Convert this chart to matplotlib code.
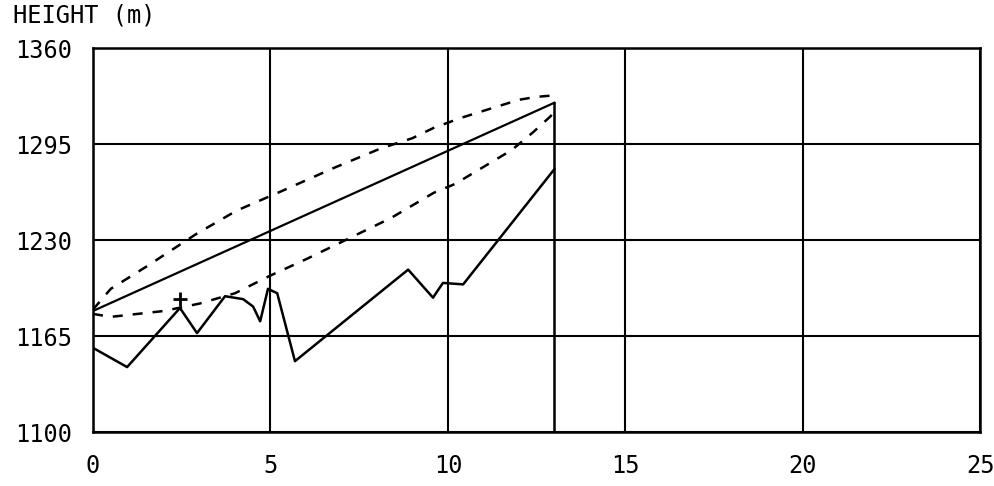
import matplotlib as mpl
mpl.use('Agg')
import matplotlib.pyplot as plt

# distance along route vs height (m)
route_x = [0, 0.96, 2.45, 2.93, 3.72, 4.23, 4.51, 4.71, 4.93, 5.19, 5.69, 8.88, 9.58, 9.86, 10.43, 13.0]
route_y = [1157, 1144, 1184, 1167, 1192, 1190, 1185, 1175, 1197, 1194, 1148, 1210, 1191, 1201, 1200, 1278]

fit_x = [0, 13.0]
fit_y = [1182, 1323]

upper_x = [0, 0.5, 1.5, 2.9, 4.05, 5.3, 6.8, 8.1, 9.0, 9.6, 10.4, 12.0, 12.5, 13.0]
upper_y = [1183, 1197, 1212, 1234, 1250, 1263, 1279, 1292, 1299, 1306, 1313, 1325, 1327, 1328]

lower_x = [0, 0.5, 2, 3, 4, 5, 6, 7.2, 8.4, 9.6, 10.2, 11.8, 12.4, 12.9, 13.0]
lower_y = [1180, 1178, 1182, 1187, 1194, 1206, 1217, 1231, 1245, 1262, 1268, 1291, 1303, 1314, 1318]

end_x = [13.0, 13.0]
end_y = [1100, 1323]

peak_x = [2.45]
peak_y = [1190]

xticks = [0, 5, 10, 15, 20, 25]
yticks = [1100, 1165, 1230, 1295, 1360]

plt.rcParams['font.family'] = ['DejaVu Sans Mono']

fig = plt.figure(figsize=(9.94, 4.86), dpi=100)
ax = fig.add_axes([0.0936, 0.111, 0.8925, 0.790])

ax.plot(route_x, route_y, color='black', lw=1.8)
ax.plot(fit_x, fit_y, color='black', lw=1.6)
ax.plot(upper_x, upper_y, color='black', lw=1.8, ls=(0, (4, 4)))
ax.plot(lower_x, lower_y, color='black', lw=1.8, ls=(0, (4, 4)))
ax.plot(end_x, end_y, color='black', lw=1.8)
ax.plot(peak_x, peak_y, marker='+', color='black', ms=10, mew=2)

ax.set_xlim(0, 25)
ax.set_ylim(1100, 1360)
ax.set_xticks(xticks)
ax.set_yticks(yticks)
ax.grid(True, color='black', lw=1.5)
ax.tick_params(length=0, labelsize=17)
ax.tick_params(axis='x', pad=16)
ax.tick_params(axis='y', pad=15)
for s in ax.spines.values():
    s.set_linewidth(1.8)

fig.text(0.013, 0.968, 'HEIGHT (m)', fontsize=17, va='center', ha='left')

fig.savefig('out.png', dpi=100)
